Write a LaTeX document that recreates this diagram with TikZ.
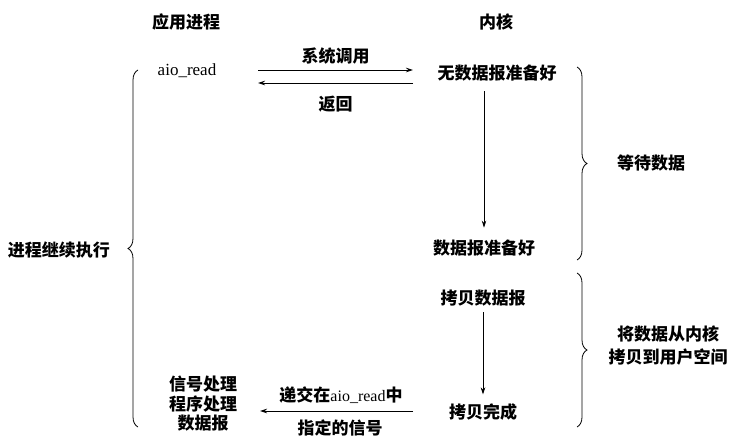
\documentclass[tikz,border=0pt]{standalone}
\usepackage{fontspec}
\setmainfont{Noto Sans CJK SC}
\newfontfamily\latf{Liberation Serif}
\usetikzlibrary{arrows.meta,decorations.pathreplacing,calc}
\tikzset{
  lbl/.style={inner sep=0pt, font=\fontsize{17}{19.5}\selectfont\bfseries, align=center},
  arr/.style={line width=0.8pt, -{Stealth[length=7pt,width=4.5pt]}},
  brc/.style={line width=0.8pt, decorate, decoration={brace, amplitude=10pt}}
}
\begin{document}
\begin{tikzpicture}[x=1pt,y=-1pt]
\useasboundingbox (0,0) rectangle (744,447);
\node[lbl] (tapp) at (186,22) {应用进程};
\node[lbl] (tker) at (496,22) {内核};
\node[lbl, font=\latf\fontsize{17}{19}\selectfont] (aio) at (187,71) {aio\_read};
\node[lbl] (nodata) at (497,73) {无数据报准备好};
\node[lbl] (ready) at (484,248) {数据报准备好};
\node[lbl] (copy) at (483,298) {拷贝数据报};
\node[lbl] (done) at (483,412) {拷贝完成};
\node[lbl] (handler) at (203,404) {信号处理\\程序处理\\数据报};
\node[lbl] (cont) at (59,250) {进程继续执行};
\node[lbl] (wait) at (651,163) {等待数据};
\node[lbl, font=\fontsize{17}{23}\selectfont\bfseries] (copyuser) at (668,346) {将数据从内核\\拷贝到用户空间};

\coordinate (callS) at (258,70);
\coordinate (callE) at (413,70);
\coordinate (retS) at (413,83);
\coordinate (retE) at (258,83);
\coordinate (sigS) at (413,411);
\coordinate (sigE) at (260,411);

\draw[arr] (callS) -- node[lbl, above=5pt] (syscall) {系统调用} (callE);
\draw[arr] (retS) -- node[lbl, below=13pt] (ret) {返回} (retE);
\draw[arr] ($(nodata.south -| ready.north)+(0,10)$) -- ($(ready.north)+(0,-12)$);
\draw[arr] ($(copy.south)+(0,6)$) -- ($(done.north)+(0,-9)$);
\draw[arr] (sigS) -- (sigE);
\node[lbl] (sig1) at (341,395) {递交在{\latf\fontsize{16}{18}\selectfont\mdseries aio\_read}中};
\node[lbl] (sig2) at (340,428) {指定的信号};

\draw[brc] (138,427) -- (138,70);
\draw[brc] (577,67) -- (577,260);
\draw[brc] (577,273) -- (577,427);
\end{tikzpicture}
\end{document}
